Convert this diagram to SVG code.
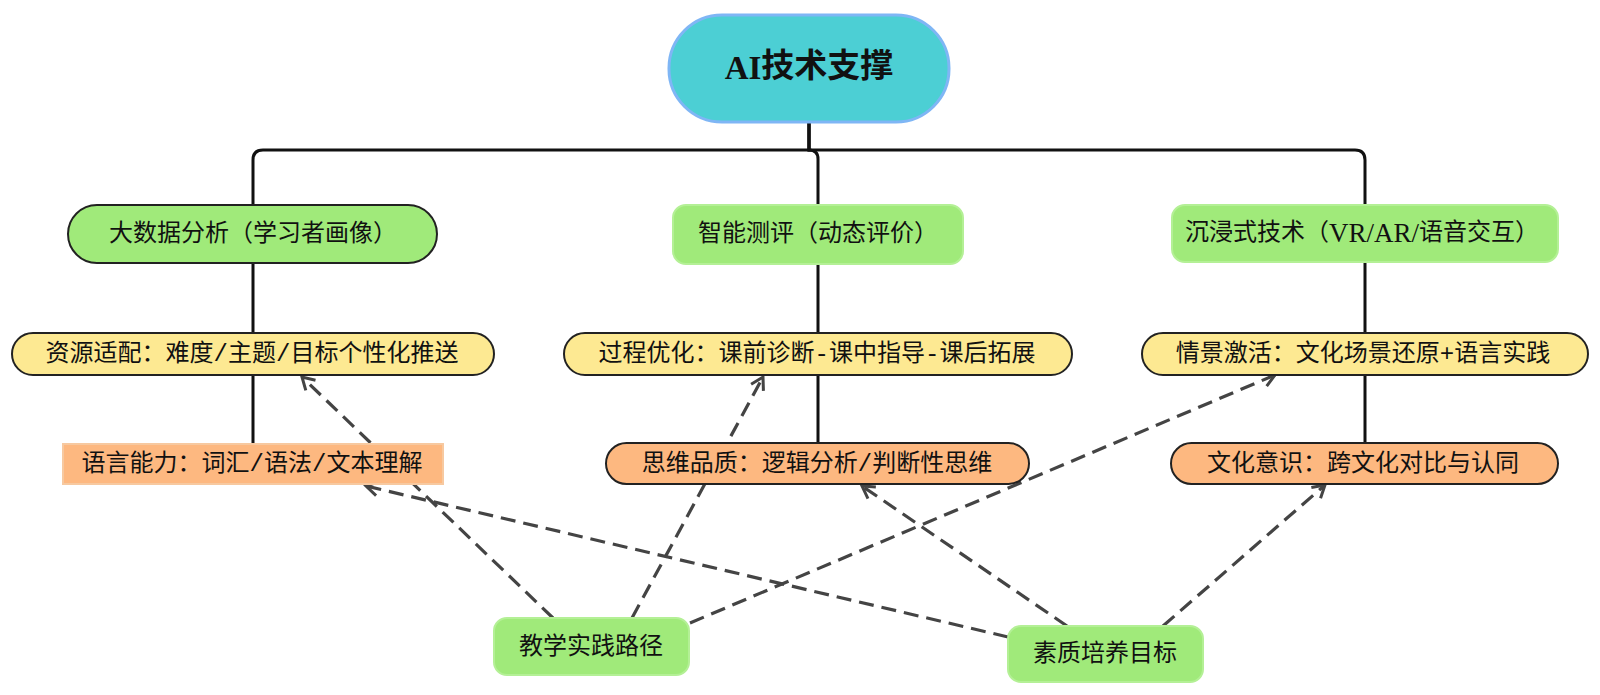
<svg xmlns="http://www.w3.org/2000/svg" width="1600" height="695" viewBox="0 0 1600 695">
<defs>
<style>
text{font-family:"Liberation Mono","Noto Sans CJK SC",sans-serif;font-size:24px;fill:#111;text-anchor:middle;dominant-baseline:central}
.title{font-size:33px;font-weight:bold}
.serif{font-family:"Liberation Serif","Noto Sans CJK SC",serif}
.big{font-size:27px}
.tree{fill:none;stroke:#111;stroke-width:3}
.link{fill:none;stroke:#444;stroke-width:3.2;stroke-dasharray:15 8}
.green{fill:#a0ea7a;stroke:#222;stroke-width:2}
.green2{fill:#a0ea7a;stroke:#b4f096;stroke-width:2}
.yellow{fill:#fde992;stroke:#222;stroke-width:2}
.orange{fill:#fdb880;stroke:#222;stroke-width:2}
.orange2{fill:#fdb880;stroke:#f7c9a0;stroke-width:2}
.teal{fill:#4ccfd4;stroke:#7fb6f5;stroke-width:3}
</style>
<marker id="arr" markerUnits="userSpaceOnUse" markerWidth="16" markerHeight="16" refX="13" refY="7" orient="auto" overflow="visible">
<path d="M1,0 L13,7 L1,14" fill="none" stroke="#444" stroke-width="3" stroke-linejoin="miter"/>
</marker>
</defs>
<rect width="1600" height="695" fill="#fff"/>
<g id="connectors">
<path class="tree" d="M809,122 V150 H263 Q253,150 253,160 V205"/>
<path class="tree" d="M809,122 V150 Q818,150 818,159 V205"/>
<path class="tree" d="M809,122 V150 H1355 Q1365,150 1365,160 V205"/>
<path class="tree" d="M253,263 V333 M818,264 V333 M1365,262 V333"/>
<path class="tree" d="M253,375 V444 M818,375 V443 M1365,375 V443"/>
<line class="link" x1="553" y1="618" x2="302" y2="377" marker-end="url(#arr)"/>
<line class="link" x1="632" y1="618" x2="763" y2="377" marker-end="url(#arr)"/>
<line class="link" x1="690" y1="623" x2="1275" y2="375" marker-end="url(#arr)"/>
<line class="link" x1="1008" y1="637" x2="366" y2="486" marker-end="url(#arr)"/>
<line class="link" x1="1067" y1="626" x2="862" y2="486" marker-end="url(#arr)"/>
<line class="link" x1="1163" y1="626" x2="1325" y2="485" marker-end="url(#arr)"/>
</g>
<g id="node-root">
<rect class="teal" x="669" y="15" width="280" height="107" rx="53"/>
<text class="title" x="809" y="68"><tspan class="serif">AI</tspan>技术支撑</text>
</g>
<g id="node-bigdata">
<rect class="green" x="68" y="205" width="369" height="58" rx="29"/>
<text x="253" y="234">大数据分析（学习者画像）</text>
</g>
<g id="node-eval">
<rect class="green2" x="673" y="205" width="290" height="59" rx="13"/>
<text x="818" y="234">智能测评（动态评价）</text>
</g>
<g id="node-immersive">
<rect class="green2" x="1172" y="205" width="386" height="57" rx="13"/>
<text x="1362" y="233">沉浸式技术（<tspan class="serif big">VR/AR/</tspan>语音交互）</text>
</g>
<g id="node-resource">
<rect class="yellow" x="12" y="333" width="482" height="42" rx="21"/>
<text x="252" y="354">资源适配：难度/主题/目标个性化推送</text>
</g>
<g id="node-process">
<rect class="yellow" x="564" y="333" width="508" height="42" rx="21"/>
<text x="817" y="354">过程优化：课前诊断-课中指导-课后拓展</text>
</g>
<g id="node-scene">
<rect class="yellow" x="1142" y="333" width="446" height="42" rx="21"/>
<text x="1363" y="354">情景激活：文化场景还原+语言实践</text>
</g>
<g id="node-language">
<rect class="orange2" x="63" y="444" width="380" height="40"/>
<text x="252" y="464">语言能力：词汇/语法/文本理解</text>
</g>
<g id="node-thinking">
<rect class="orange" x="606" y="443" width="423" height="41" rx="20.5"/>
<text x="817" y="464">思维品质：逻辑分析/判断性思维</text>
</g>
<g id="node-culture">
<rect class="orange" x="1171" y="443" width="387" height="41" rx="20.5"/>
<text x="1363" y="464">文化意识：跨文化对比与认同</text>
</g>
<g id="node-practice">
<rect class="green2" x="494" y="618" width="195" height="57" rx="13"/>
<text x="591" y="647">教学实践路径</text>
</g>
<g id="node-goal">
<rect class="green2" x="1008" y="626" width="195" height="56" rx="13"/>
<text x="1105" y="654">素质培养目标</text>
</g>
</svg>
